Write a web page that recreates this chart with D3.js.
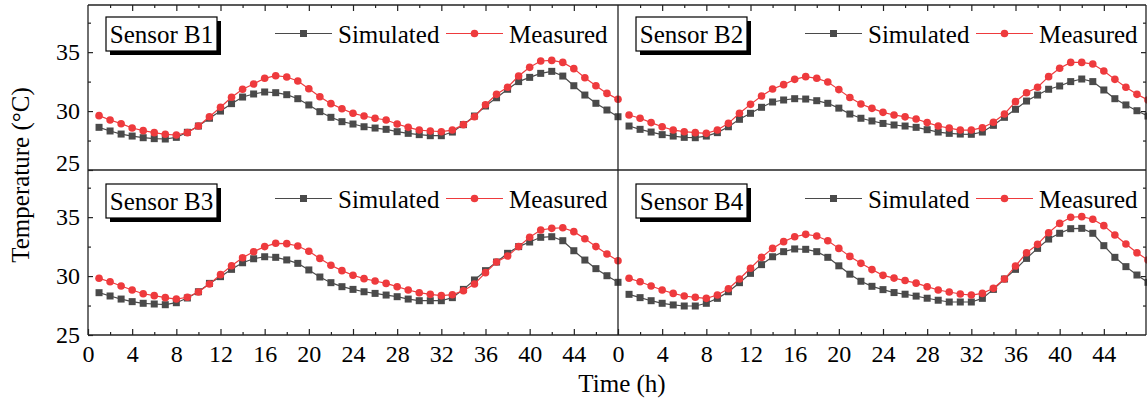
<!DOCTYPE html>
<html><head><meta charset="utf-8">
<script src="https://cdn.jsdelivr.net/npm/d3@7"></script>
<style>
html,body{margin:0;padding:0;background:#fff;}
svg text{font-family:"Liberation Serif","Times New Roman",serif;fill:#000;}
</style></head>
<body><svg id="chart" width="1147" height="403"></svg>
<script>
const hours = [1,2,3,4,5,6,7,8,9,10,11,12,13,14,15,16,17,18,19,20,21,22,23,24,25,26,27,28,29,30,31,32,33,34,35,36,37,38,39,40,41,42,43,44,45,46,47,48];
const xTickLabels = [0,4,8,12,16,20,24,28,32,36,40,44];
const xMinorTicks = [2,6,10,14,18,22,26,30,34,38,42,46];
const yTickLabels = [25,30,35];
const yMinorTicks = [27.5,32.5,37.5];
const seriesNames = ["Simulated","Measured"];
const sensorNames = ["Sensor B1","Sensor B2","Sensor B3","Sensor B4"];

const b1Sim  = [28.62,28.31,28.05,27.88,27.74,27.66,27.63,27.77,28.2,28.73,29.39,30.0,30.63,31.19,31.45,31.62,31.56,31.39,31.05,30.52,29.95,29.47,29.1,28.9,28.67,28.56,28.45,28.25,28.11,28.0,27.91,27.91,28.22,28.85,29.58,30.43,31.13,31.85,32.5,32.86,33.2,33.37,32.97,32.15,31.36,30.66,30.09,29.52];
const b1Meas = [29.61,29.24,28.93,28.56,28.34,28.17,28.03,27.97,28.17,28.73,29.52,30.32,31.17,31.85,32.3,32.78,33.0,32.89,32.55,31.9,31.22,30.63,30.2,29.81,29.58,29.39,29.24,28.9,28.62,28.39,28.31,28.25,28.39,28.85,29.52,30.54,31.42,32.02,32.97,33.71,34.25,34.3,34.13,33.6,32.83,32.15,31.5,31.0];
const b2Sim  = [28.73,28.45,28.22,28.0,27.88,27.77,27.74,27.88,28.17,28.67,29.3,29.81,30.32,30.77,30.94,31.05,31.02,30.88,30.66,30.25,29.75,29.39,29.16,28.95,28.82,28.73,28.62,28.42,28.22,28.11,28.05,28.03,28.22,28.79,29.47,30.15,30.85,31.36,31.85,32.13,32.5,32.72,32.5,31.79,31.05,30.52,30.03,29.58];
const b2Meas = [29.67,29.39,29.02,28.67,28.39,28.25,28.17,28.11,28.39,28.96,29.81,30.57,31.28,31.87,32.24,32.69,32.92,32.78,32.47,31.82,31.15,30.6,30.23,29.89,29.67,29.51,29.33,29.02,28.73,28.56,28.39,28.39,28.59,29.05,29.75,30.8,31.56,32.02,32.92,33.63,34.13,34.13,33.99,33.4,32.69,32.02,31.42,30.94];
const b3Sim  = [28.59,28.31,28.05,27.83,27.69,27.63,27.57,27.74,28.14,28.67,29.38,29.95,30.57,31.13,31.47,31.64,31.59,31.37,31.08,30.52,29.92,29.44,29.1,28.87,28.67,28.53,28.39,28.25,28.05,27.91,27.91,27.91,28.17,28.87,29.67,30.46,31.19,31.93,32.5,32.89,33.29,33.34,33.0,32.15,31.36,30.63,30.03,29.47];
const b3Meas = [29.81,29.52,29.16,28.82,28.5,28.34,28.17,28.05,28.2,28.65,29.33,30.12,30.88,31.56,32.07,32.5,32.78,32.75,32.55,32.1,31.5,30.92,30.46,30.07,29.78,29.58,29.38,29.1,28.82,28.59,28.45,28.34,28.42,28.76,29.33,30.29,31.19,31.7,32.5,33.29,33.91,34.05,34.1,33.77,33.17,32.5,31.87,31.3];
const b4Sim  = [28.45,28.17,27.91,27.69,27.55,27.46,27.46,27.69,28.11,28.67,29.44,30.23,30.97,31.64,32.07,32.3,32.27,32.07,31.59,30.87,30.16,29.56,29.13,28.85,28.6,28.46,28.3,28.12,27.95,27.8,27.8,27.8,28.11,28.87,29.75,30.57,31.5,32.35,33.14,33.63,34.02,34.05,33.63,32.58,31.59,30.8,30.09,29.47];
const b4Meas = [29.81,29.52,29.16,28.82,28.53,28.31,28.2,28.11,28.39,28.93,29.75,30.66,31.59,32.35,32.92,33.34,33.54,33.4,33.0,32.35,31.67,31.08,30.55,30.06,29.83,29.62,29.4,29.1,28.82,28.65,28.48,28.39,28.53,28.96,29.75,30.85,31.98,32.69,33.68,34.47,34.99,35.04,34.82,34.28,33.48,32.72,31.98,31.36];

const simColor = "#4a4a4a", measColor = "#ee3a3d", axisColor = "#222";
const svg = d3.select("#chart");

const colLeft = [88, 618];
const plotW = 530;
const rowTop = [5, 170];
const plotH = 165;
const rightEdge = 1146;

const panels = [
  {name: sensorNames[0], sim: b1Sim, meas: b1Meas, col: 0, row: 0},
  {name: sensorNames[1], sim: b2Sim, meas: b2Meas, col: 1, row: 0},
  {name: sensorNames[2], sim: b3Sim, meas: b3Meas, col: 0, row: 1},
  {name: sensorNames[3], sim: b4Sim, meas: b4Meas, col: 1, row: 1}
];

function styleAxis(g){
  g.select(".domain").remove();
  g.selectAll(".tick line").attr("stroke", axisColor).attr("stroke-width", 1.2);
  g.selectAll("text").style("font-size","24px").style("font-family","'Liberation Serif',serif").attr("fill","#000");
}

panels.forEach(p => {
  const x0 = colLeft[p.col], y0 = rowTop[p.row];
  const x = d3.scaleLinear().domain([0,48]).range([x0, x0 + plotW]);
  const y = d3.scaleLinear().domain([25,39]).range([y0 + plotH, y0]);
  const g = svg.append("g");

  if (p.row === 1) {
    g.append("g").attr("transform",`translate(0,${y0+plotH})`)
      .call(d3.axisBottom(x).tickValues(xTickLabels).tickFormat(d3.format("d")).tickSizeInner(-6).tickSizeOuter(0).tickPadding(10))
      .call(styleAxis);
    g.append("g").attr("transform",`translate(0,${y0+plotH})`)
      .call(d3.axisBottom(x).tickValues(xMinorTicks).tickFormat("").tickSizeInner(-3).tickSizeOuter(0))
      .call(styleAxis);
  } else {
    g.append("g").attr("transform",`translate(0,${y0})`)
      .call(d3.axisTop(x).tickValues(xTickLabels.filter(d=>d>0)).tickFormat("").tickSizeInner(-6).tickSizeOuter(0))
      .call(styleAxis);
    g.append("g").attr("transform",`translate(0,${y0})`)
      .call(d3.axisTop(x).tickValues(xMinorTicks).tickFormat("").tickSizeInner(-3).tickSizeOuter(0))
      .call(styleAxis);
  }
  if (p.col === 0) {
    const ya = g.append("g").attr("transform",`translate(${x0},0)`)
      .call(d3.axisLeft(y).tickValues(yTickLabels).tickFormat(d3.format("d")).tickSizeInner(-5).tickSizeOuter(0).tickPadding(8))
      .call(styleAxis);
    if (p.row === 0) ya.selectAll(".tick text").filter(d => d === 25).attr("y", -7);
    g.append("g").attr("transform",`translate(${x0},0)`)
      .call(d3.axisLeft(y).tickValues(yMinorTicks).tickFormat("").tickSizeInner(-3).tickSizeOuter(0))
      .call(styleAxis);
  } else {
    g.append("g").attr("transform",`translate(${rightEdge},0)`)
      .call(d3.axisRight(y).tickValues(yTickLabels.filter(d=>d>25)).tickFormat("").tickSizeInner(-5).tickSizeOuter(0))
      .call(styleAxis);
    g.append("g").attr("transform",`translate(${rightEdge},0)`)
      .call(d3.axisRight(y).tickValues(yMinorTicks).tickFormat("").tickSizeInner(-3).tickSizeOuter(0))
      .call(styleAxis);
  }

  const series = [
    {vals: p.sim, color: simColor, shape: "square"},
    {vals: p.meas, color: measColor, shape: "circle"}
  ];
  series.forEach(s => {
    const pts = hours.map((h,i) => [h, s.vals[i]]);
    g.append("path").datum(pts)
      .attr("fill","none").attr("stroke", s.color).attr("stroke-width", 1.2)
      .attr("d", d3.line().x(d => x(d[0])).y(d => y(d[1])));
    if (s.shape === "square") {
      g.selectAll(null).data(pts).enter().append("rect")
        .attr("x", d => x(d[0]) - 3.5).attr("y", d => y(d[1]) - 3.5)
        .attr("width", 7).attr("height", 7).attr("fill", s.color);
    } else {
      g.selectAll(null).data(pts).enter().append("circle")
        .attr("cx", d => x(d[0])).attr("cy", d => y(d[1])).attr("r", 3.8).attr("fill", s.color);
    }
  });

  const bx = x0 + 18, by = y0 + (p.row === 0 ? 12 : 14);
  g.append("rect").attr("x", bx + 4).attr("y", by + 4).attr("width", 111).attr("height", 34).attr("fill", "#000");
  g.append("rect").attr("x", bx).attr("y", by).attr("width", 111).attr("height", 34).attr("fill", "#fff").attr("stroke","#000").attr("stroke-width",1.2);
  g.append("text").attr("x", bx + 55.5).attr("y", by + 26).attr("text-anchor","middle")
    .style("font-size","25px").text(p.name);

  const ly = y0 + 28.5, lt = y0 + 37.5;
  const legendItems = [
    {name: seriesNames[0], color: simColor, shape: "square", lx: 187},
    {name: seriesNames[1], color: measColor, shape: "circle", lx: 358}
  ];
  legendItems.forEach(it => {
    const lx = x0 + it.lx;
    g.append("line").attr("x1", lx).attr("x2", lx + 57).attr("y1", ly).attr("y2", ly)
      .attr("stroke", it.color).attr("stroke-width", 1.2);
    if (it.shape === "square") {
      g.append("rect").attr("x", lx + 28.5 - 3.5).attr("y", ly - 3.5).attr("width", 7).attr("height", 7).attr("fill", it.color);
    } else {
      g.append("circle").attr("cx", lx + 28.5).attr("cy", ly).attr("r", 3.8).attr("fill", it.color);
    }
    g.append("text").attr("x", lx + 63).attr("y", lt).style("font-size","25px").text(it.name);
  });
});

const frame = svg.append("g").attr("stroke", axisColor).attr("stroke-width", 1.3).attr("fill","none");
frame.append("line").attr("x1", colLeft[0]).attr("x2", rightEdge).attr("y1", rowTop[0]).attr("y2", rowTop[0]);
frame.append("line").attr("x1", colLeft[0]).attr("x2", rightEdge).attr("y1", rowTop[1]).attr("y2", rowTop[1]);
frame.append("line").attr("x1", colLeft[0]).attr("x2", rightEdge).attr("y1", rowTop[1]+plotH).attr("y2", rowTop[1]+plotH);
frame.append("line").attr("x1", colLeft[0]).attr("x2", colLeft[0]).attr("y1", rowTop[0]).attr("y2", rowTop[1]+plotH);
frame.append("line").attr("x1", colLeft[1]).attr("x2", colLeft[1]).attr("y1", rowTop[0]).attr("y2", rowTop[1]+plotH);
frame.append("line").attr("x1", rightEdge).attr("x2", rightEdge).attr("y1", rowTop[0]).attr("y2", rowTop[1]+plotH);

svg.append("text").attr("transform","translate(29,175) rotate(-90)").attr("text-anchor","middle")
  .style("font-size","25px").style("fill","#000").text("Temperature (°C)");
svg.append("text").attr("x", 622).attr("y", 392).attr("text-anchor","middle")
  .style("font-size","25px").text("Time (h)");
</script></body></html>
